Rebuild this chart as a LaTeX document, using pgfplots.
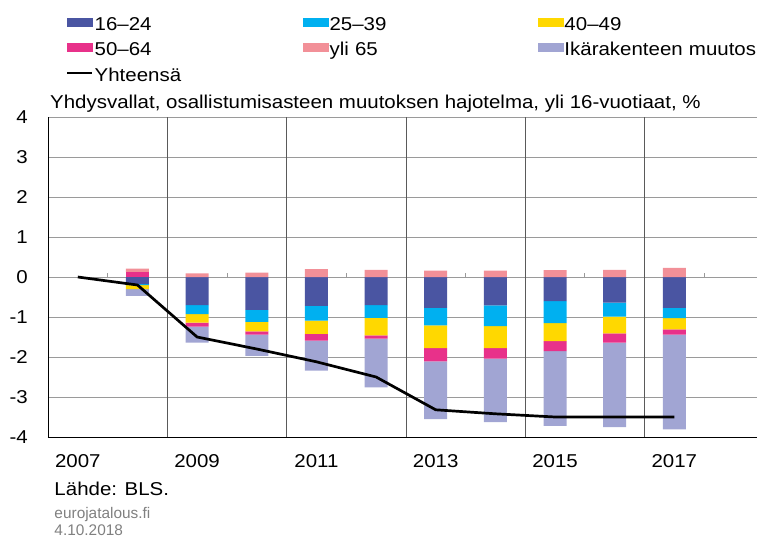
\documentclass[border=0pt]{standalone}
\usepackage{fontspec}
\setmainfont{Liberation Sans}[FakeStretch=1.1]
\newfontfamily\plainfont{Liberation Sans}
\usepackage{pgfplots}
\usepackage{pgfplotstable}
\pgfplotsset{compat=1.18}

\definecolor{cA}{HTML}{4A55A2}
\definecolor{cB}{HTML}{00B0F0}
\definecolor{cC}{HTML}{FFD800}
\definecolor{cD}{HTML}{E8318A}
\definecolor{cE}{HTML}{F29098}
\definecolor{cF}{HTML}{A1A5D3}
\definecolor{hgrid}{HTML}{9A9A9A}
\definecolor{vgrid}{HTML}{5A5A5A}
\definecolor{srcgrey}{HTML}{808080}

\pgfplotstableread{
year a b c dneg dpos e f total
2007 0 0 0 0 0 0 0 0
2008 -0.18 -0.02 -0.10 0 0.13 0.08 -0.17 -0.20
2009 -0.70 -0.23 -0.21 -0.10 0 0.09 -0.40 -1.50
2010 -0.82 -0.30 -0.24 -0.08 0 0.11 -0.53 -1.80
2011 -0.72 -0.37 -0.33 -0.17 0 0.20 -0.75 -2.12
2012 -0.70 -0.32 -0.44 -0.08 0 0.18 -1.22 -2.50
2013 -0.77 -0.44 -0.57 -0.33 0 0.16 -1.44 -3.32
2014 -0.71 -0.52 -0.55 -0.26 0 0.16 -1.59 -3.42
2015 -0.60 -0.55 -0.45 -0.25 0 0.17 -1.87 -3.50
2016 -0.64 -0.35 -0.42 -0.23 0 0.18 -2.11 -3.50
2017 -0.77 -0.26 -0.28 -0.13 0 0.23 -2.37 -3.50
}\data

\newcommand{\bigfont}{\fontsize{18.6bp}{22bp}\selectfont}
\newcommand{\smallfont}{\plainfont\fontsize{15.4bp}{18bp}\selectfont}

\pgfplotsset{
  common/.style={
    scale only axis, width=709bp, height=320bp,
    xmin=2006.5, xmax=2018.386, ymin=-4, ymax=4,
    at={(0,0)}, anchor=south west,
  },
}

\begin{document}
\begin{tikzpicture}
\useasboundingbox (-48bp,-101bp) rectangle (709bp,437bp);
\begin{axis}[common,
  axis lines=left, axis line style={-, black, line width=0.9bp},
  ytick={-4,-3,...,4}, yticklabels={-4,-3,-2,-1,0,1,2,3,4},
  xtick={2007,2009,...,2017}, xticklabels={2007,2009,2011,2013,2015,2017},
  major tick length=0pt,
  ymajorgrids, grid style={hgrid, line width=0.8bp},
  extra x ticks={2008.5,2010.5,2012.5,2014.5,2016.5},
  extra x tick labels={},
  extra x tick style={xmajorgrids=true, major grid style={vgrid, line width=0.8bp}},
  tick label style={font=\bigfont},
  yticklabel style={inner sep=0pt, anchor=east, xshift=-20bp},
  xticklabel style={inner sep=0pt, anchor=north, yshift=-17bp},
  ybar stacked, bar width=23bp,
]
\pgfplotsinvokeforeach{2007.5,2009.5,2011.5,2013.5,2015.5,2017.5}{
  \draw[hgrid, line width=0.8bp] (axis cs:#1,0) -- ([yshift=4bp]axis cs:#1,0);
}
\addplot[fill=cA, draw=none] table[x=year,y=a]{\data};
\addplot[fill=cB, draw=none] table[x=year,y=b]{\data};
\addplot[fill=cC, draw=none] table[x=year,y=c]{\data};
\addplot[fill=cD, draw=none] table[x=year,y=dneg]{\data};
\addplot[fill=cF, draw=none] table[x=year,y=f]{\data};
\end{axis}

\begin{axis}[common, hide axis, ybar stacked, bar width=23bp]
\addplot[fill=cD, draw=none] table[x=year,y=dpos]{\data};
\addplot[fill=cE, draw=none] table[x=year,y=e]{\data};
\end{axis}

\begin{axis}[common, hide axis,
  legend cell align=left,
  legend style={at={(0.02539,1.3125)}, anchor=north west, draw=none, fill=none,
    inner sep=0pt, outer sep=0pt, legend columns=3, font=\bigfont,
    nodes={inner sep=0pt, text height=13.3bp, text depth=0bp, text width=208bp, align=left},
    row sep=12.2bp,
    /tikz/every odd column/.append style={column sep=1.5bp},
    /tikz/every even column/.append style={column sep=0pt}},
]
\addlegendimage{legend image code/.code={\fill[cA] (0bp,-2.2bp) rectangle (25bp,5.8bp);}}
\addlegendentry{16–24}
\addlegendimage{legend image code/.code={\fill[cB] (0bp,-2.2bp) rectangle (25bp,5.8bp);}}
\addlegendentry{25–39}
\addlegendimage{legend image code/.code={\fill[cC] (0bp,-2.2bp) rectangle (25bp,5.8bp);}}
\addlegendentry{40–49}
\addlegendimage{legend image code/.code={\fill[cD] (0bp,-2.2bp) rectangle (25bp,5.8bp);}}
\addlegendentry{50–64}
\addlegendimage{legend image code/.code={\fill[cE] (0bp,-2.2bp) rectangle (25bp,5.8bp);}}
\addlegendentry{yli 65}
\addlegendimage{legend image code/.code={\fill[cF] (0bp,-2.2bp) rectangle (25bp,5.8bp);}}
\addlegendentry{Ikärakenteen muutos}
\addplot[black, line width=2.7bp, line join=round,
  legend image code/.code={\draw[black, line width=2.2bp] (0bp,1.6bp) -- (25bp,1.6bp);}]
  table[x=year,y=total]{\data};
\addlegendentry{Yhteensä}
\end{axis}

\node[anchor=base west, inner sep=0pt, font=\bigfont] at (2bp,328.5bp)
  {Yhdysvallat, osallistumisasteen muutoksen hajotelma, yli 16-vuotiaat, \%};
\node[anchor=base west, inner sep=0pt, font=\bigfont] at (6.3bp,-58bp) {Lähde: BLS.};
\node[anchor=base west, inner sep=0pt, font=\smallfont, text=srcgrey] at (6.3bp,-81.5bp) {eurojatalous.fi};
\node[anchor=base west, inner sep=0pt, font=\smallfont, text=srcgrey] at (6.3bp,-98bp) {4.10.2018};
\end{tikzpicture}
\end{document}
